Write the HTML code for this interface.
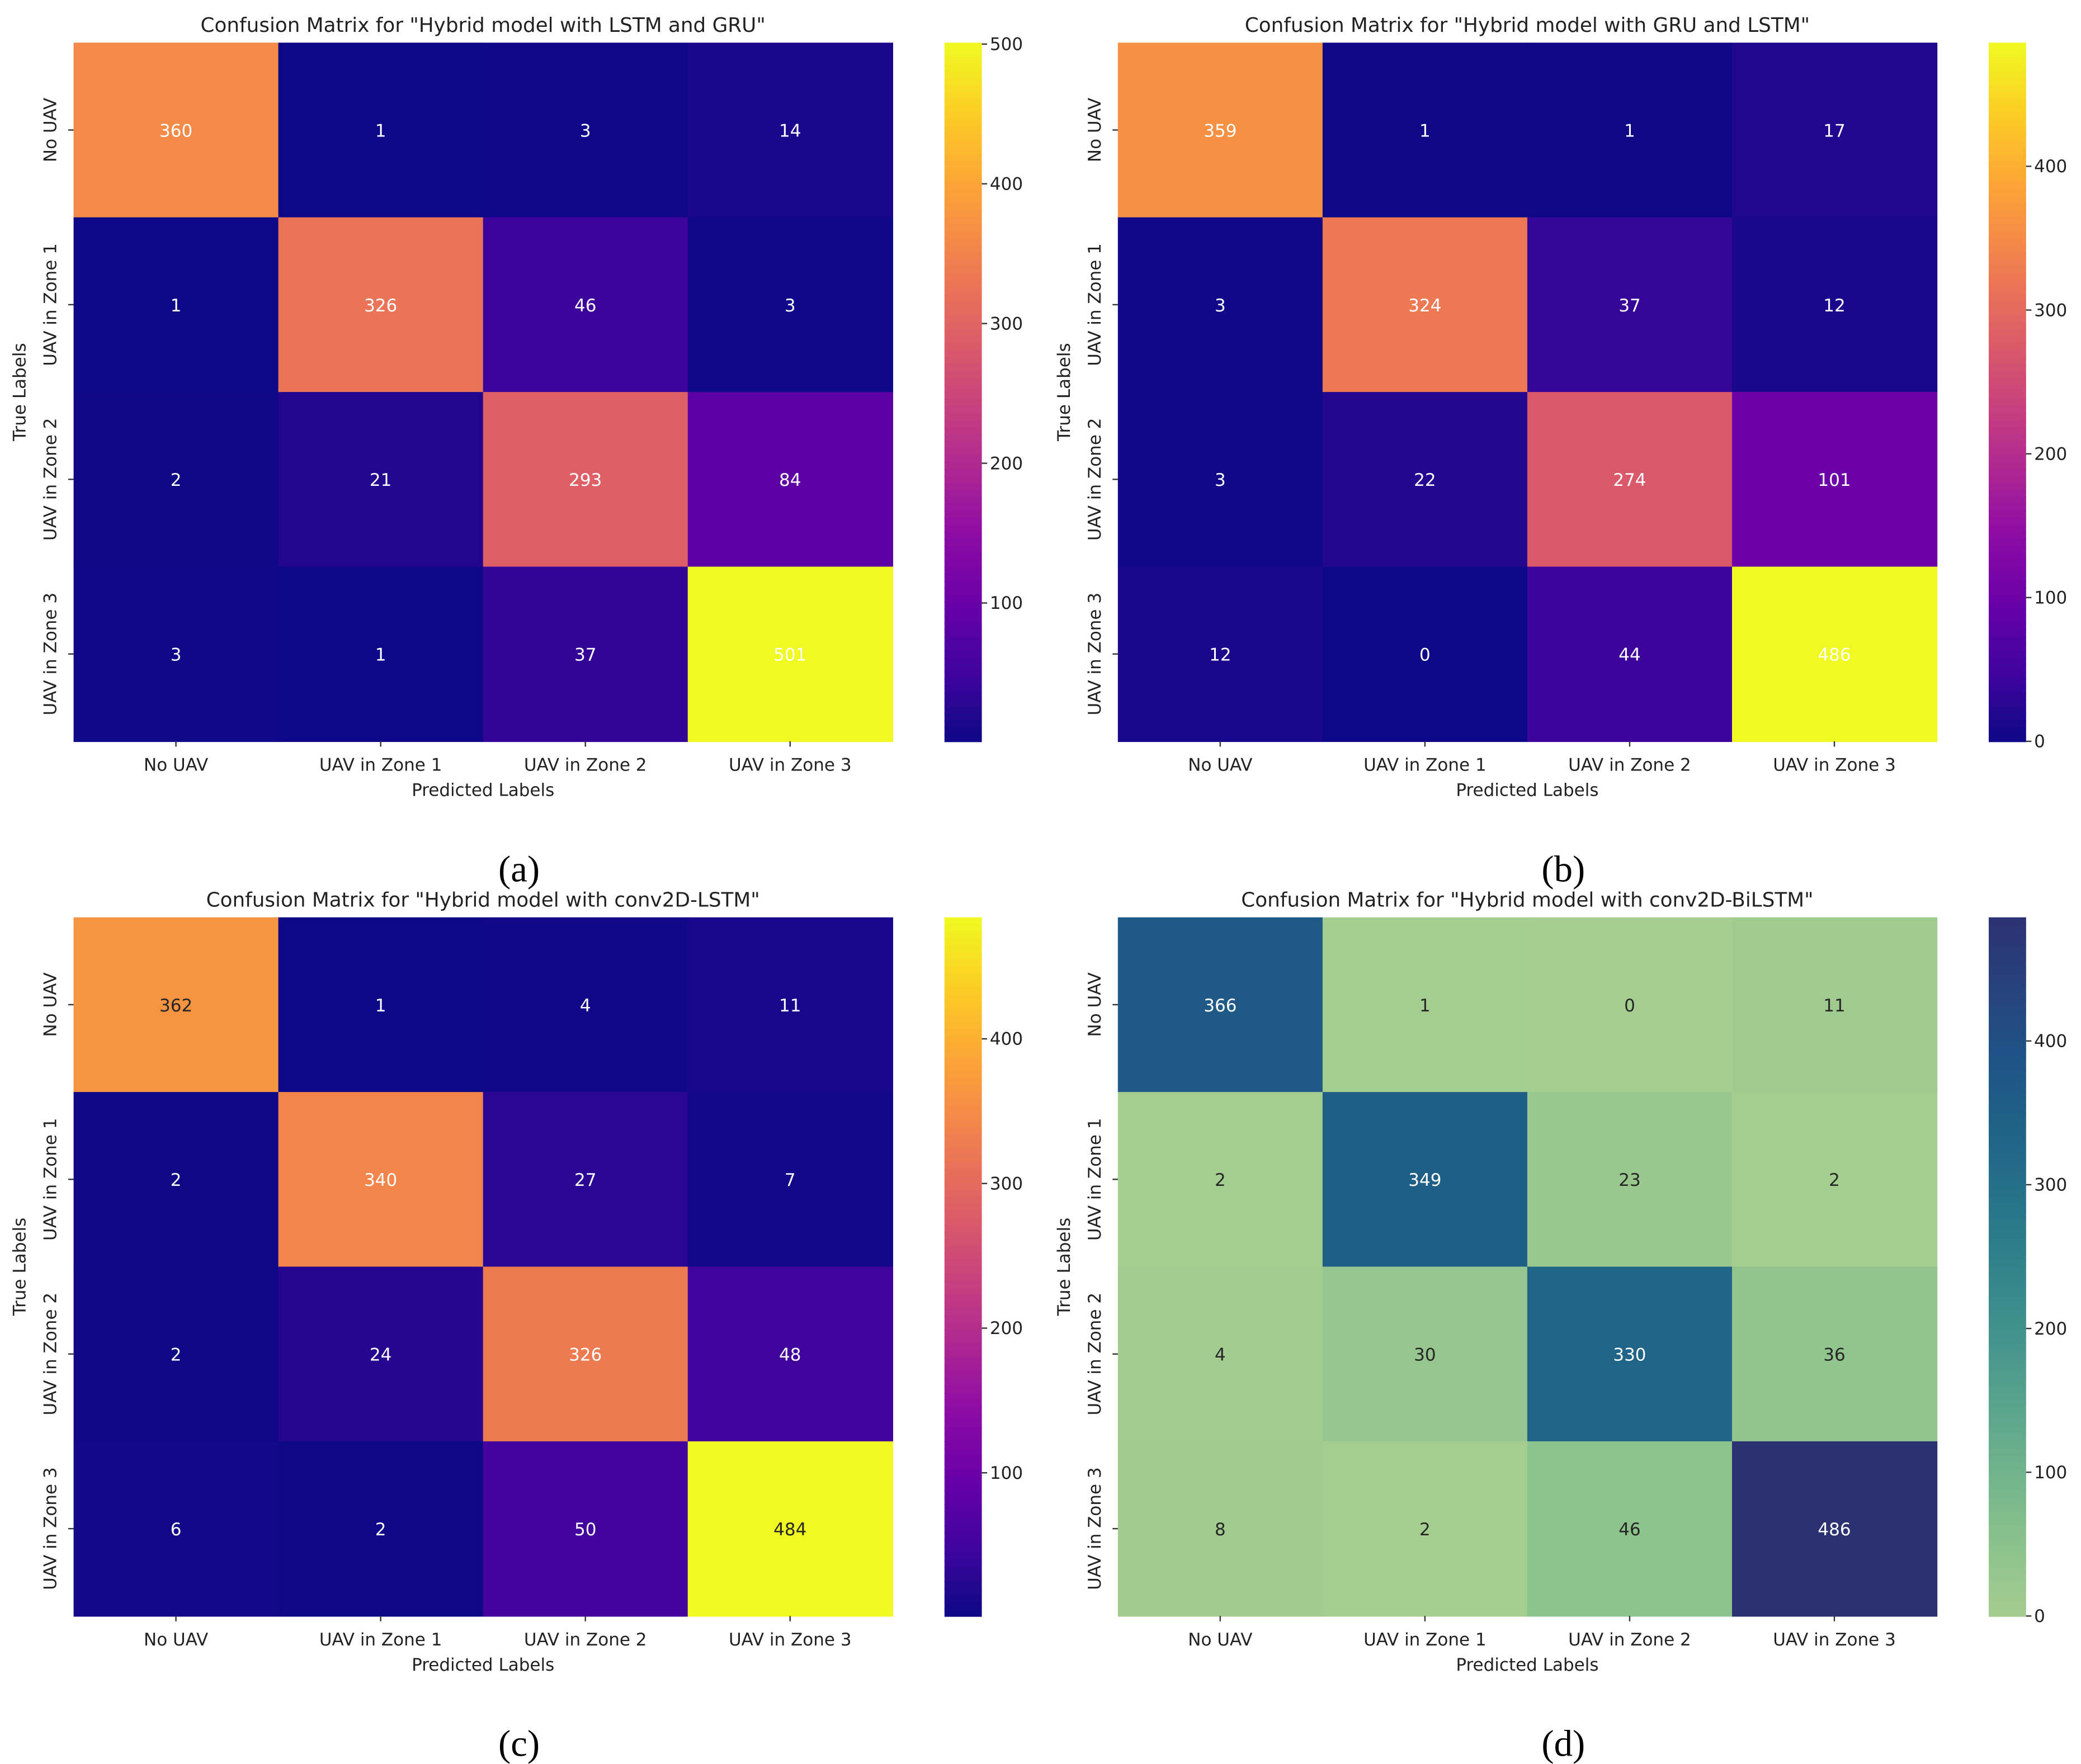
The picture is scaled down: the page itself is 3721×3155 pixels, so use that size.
<!DOCTYPE html>
<html><head><meta charset="utf-8"><style>
html,body{margin:0;padding:0;background:#fff;}
svg{display:block;}
text{font-family:"DejaVu Sans","Liberation Sans",sans-serif;}
</style></head><body>
<svg id="fig" width="3721" height="3155" viewBox="0 0 1560 1323" xmlns="http://www.w3.org/2000/svg"></svg>
<script>
const categories = ["No UAV","UAV in Zone 1","UAV in Zone 2","UAV in Zone 3"];
const titlesArr = ['Confusion Matrix for "Hybrid model with LSTM and GRU"','Confusion Matrix for "Hybrid model with GRU and LSTM"','Confusion Matrix for "Hybrid model with conv2D-LSTM"','Confusion Matrix for "Hybrid model with conv2D-BiLSTM"'];
const matrixA = [[360,1,3,14],[1,326,46,3],[2,21,293,84],[3,1,37,501]];
const matrixB = [[359,1,1,17],[3,324,37,12],[3,22,274,101],[12,0,44,486]];
const matrixC = [[362,1,4,11],[2,340,27,7],[2,24,326,48],[6,2,50,484]];
const matrixD = [[366,1,0,11],[2,349,23,2],[4,30,330,36],[8,2,46,486]];
const ticksA = [100,200,300,400,500];
const ticksB = [0,100,200,300,400];
const ticksC = [100,200,300,400];
const ticksD = [0,100,200,300,400];
const subLabels = ["(a)","(b)","(c)","(d)"];

const plasma=["#0d0887","#41049d","#6a00a8","#8f0da4","#b12a90","#cc4778","#e16462","#f2844b","#fca636","#fcce25","#f0f921"];
const crest=["#a5cd90","#8cc28c","#72b48c","#5aa48d","#43938d","#32838b","#267289","#1f6287","#1f5386","#27427d","#2c3172"];
function hex(c){return [1,3,5].map(i=>parseInt(c.substr(i,2),16));}
function cmap(stops,t){t=Math.max(0,Math.min(1,t));const n=stops.length-1;const i=Math.min(n-1,Math.floor(t*n));const f=t*n-i;const a=hex(stops[i]),b=hex(stops[i+1]);return "rgb("+a.map((v,k)=>Math.round(v+(b[k]-v)*f)).join(",")+")";}

const NS="http://www.w3.org/2000/svg";
const svg=document.getElementById("fig");
function mk(tag,attrs,parent){const e=document.createElementNS(NS,tag);for(const k in attrs)e.setAttribute(k,attrs[k]);(parent||svg).appendChild(e);return e;}

const panels=[
 {m:matrixA,t:ticksA,vmin:1,vmax:501,x0:55,y0:32,cb:708,cmap:plasma,dark:v=>false,lab:[389,652]},
 {m:matrixB,t:ticksB,vmin:0,vmax:486,x0:838,y0:32,cb:1491,cmap:plasma,dark:v=>false,lab:[1172,652]},
 {m:matrixC,t:ticksC,vmin:1,vmax:484,x0:55,y0:688,cb:708,cmap:plasma,dark:v=>v>0.74,lab:[389,1308]},
 {m:matrixD,t:ticksD,vmin:0,vmax:486,x0:838,y0:688,cb:1491,cmap:crest,dark:v=>v<0.55,lab:[1172,1308]}
];
const W=614,H=524,CBW=28;

panels.forEach((p,pi)=>{
  const g=mk("g",{});
  
  
  const cw=W/4,ch=H/4;
  const xs=j=>p.x0+j*cw, ys=i=>p.y0+i*ch;
  const norm=v=>(v-p.vmin)/(p.vmax-p.vmin);
  p.m.forEach((row,i)=>row.forEach((v,j)=>{
    const r=mk("rect",{x:xs(j),y:ys(i),width:cw+0.5,height:ch+0.5,fill:cmap(p.cmap,norm(v))},g);
    
    
    const t=mk("text",{x:xs(j)+cw/2,y:ys(i)+ch/2+5,"text-anchor":"middle","font-size":13,fill:p.dark(norm(v))?"#262626":"#ffffff"},g);
    t.textContent=v;
    
    
  }));
  const tt=mk("text",{x:p.x0+W/2,y:p.y0-8,"text-anchor":"middle","font-size":15,fill:"#222"},g);
  tt.textContent=titlesArr[pi];
  
  
  categories.forEach((c,j)=>{
    const cx=xs(j)+cw/2;
    mk("line",{x1:cx,x2:cx,y1:p.y0+H,y2:p.y0+H+4,stroke:"#333","stroke-width":1},g);
    const t=mk("text",{x:cx,y:p.y0+H+22,"text-anchor":"middle","font-size":13,fill:"#222"},g);
    t.textContent=c;
    
    
    const cy=ys(j)+ch/2;
    mk("line",{x1:p.x0-4,x2:p.x0,y1:cy,y2:cy,stroke:"#333","stroke-width":1},g);
    const ty=mk("text",{x:0,y:0,"text-anchor":"middle","font-size":13,fill:"#222",transform:`translate(${p.x0-13},${cy}) rotate(-90)`},g);
    ty.textContent=c;
    
    
  });
  const xl=mk("text",{x:p.x0+W/2,y:p.y0+H+41,"text-anchor":"middle","font-size":13,fill:"#222"},g);
  xl.textContent="Predicted Labels";
  
  
  const yl=mk("text",{x:0,y:0,"text-anchor":"middle","font-size":13,fill:"#222",transform:`translate(${p.x0-36},${p.y0+H/2}) rotate(-90)`},g);
  yl.textContent="True Labels";
  
  
  const cb=mk("g",{},g);
  
  
  const N=100;
  for(let k=0;k<N;k++){
    const t=1-(k+0.5)/N;
    mk("rect",{x:p.cb,y:p.y0+k*H/N,width:CBW,height:H/N+0.6,fill:cmap(p.cmap,t)},cb);
  }
  p.t.forEach(v=>{
    const y=p.y0+H-norm(v)*H;
    mk("line",{x1:p.cb+CBW,x2:p.cb+CBW+4,y1:y,y2:y,stroke:"#333","stroke-width":1},cb);
    const t=mk("text",{x:p.cb+CBW+6,y:y+4.5,"font-size":13,fill:"#222"},cb);
    t.textContent=v;
    
    
  });
  const sl=mk("text",{x:p.lab[0],y:p.lab[1]+9,"text-anchor":"middle","font-size":28,fill:"#000",style:"font-family:'Liberation Serif',serif"},svg);
  sl.textContent=subLabels[pi];
  
  
});
</script>
</body></html>
